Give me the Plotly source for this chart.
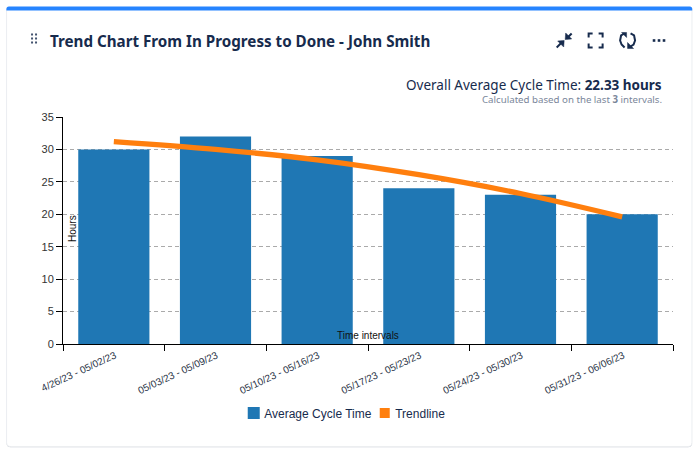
import plotly.graph_objects as go

intervals = ["04/26/23 - 05/02/23", "05/03/23 - 05/09/23", "05/10/23 - 05/16/23",
             "05/17/23 - 05/23/23", "05/24/23 - 05/30/23", "05/31/23 - 06/06/23"]
tick_labels = ["4/26/23 - 05/02/23", "05/03/23 - 05/09/23", "05/10/23 - 05/16/23",
               "05/17/23 - 05/23/23", "05/24/23 - 05/30/23", "05/31/23 - 06/06/23"]
cycle_time = [30, 32, 29, 24, 23, 20]
trendline = [31.2, 30.0, 28.4, 26.1, 23.2, 19.6]

W, H = 699, 452
L, R, T, B = 62.5, 673.5, 117.3, 343.7
INK = "#172b4d"

def px(x):
    return (x - L) / (R - L)

def py(y):
    return (B - y) / (B - T)

def pt(x, y):
    return f"{px(x):.5f},{py(y):.5f}"

def poly(points, close=False):
    d = "M" + " L".join(pt(x, y) for x, y in points)
    return d + (" Z" if close else "")

def path_shape(d, color=INK, width=2, fill=None, layer="above"):
    return dict(type="path", xref="paper", yref="paper", path=d, layer=layer,
                line=dict(color=color, width=width), fillcolor=fill)

def rect(x0, y0, x1, y1, fill, line=None, lw=0, layer="below"):
    return dict(type="rect", xref="paper", yref="paper", x0=px(x0), x1=px(x1), y0=py(y0), y1=py(y1),
                fillcolor=fill, line=dict(color=line or fill, width=lw), layer=layer)

def rounded(x0, y0, x1, y1, r_top, r_bot):
    return ("M" + pt(x0, y0 + r_top) + " Q" + pt(x0, y0) + " " + pt(x0 + r_top, y0) +
            " L" + pt(x1 - r_top, y0) + " Q" + pt(x1, y0) + " " + pt(x1, y0 + r_top) +
            " L" + pt(x1, y1 - r_bot) + " Q" + pt(x1, y1) + " " + pt(x1 - r_bot, y1) +
            " L" + pt(x0 + r_bot, y1) + " Q" + pt(x0, y1) + " " + pt(x0, y1 - r_bot) + " Z")

shapes = [
    path_shape(rounded(6, 8, 692.5, 446.8, 3, 4), color="#c5cad3", width=0, fill="#c5cad3", layer="below"),
    path_shape(rounded(6, 8, 692.5, 446, 3, 4), color="#eceef1", width=1, fill="#ffffff", layer="below"),
    path_shape(rounded(5.8, 7, 692.8, 11, 2.5, 0), color="#2684ff", width=0, fill="#2684ff", layer="below"),
]
# grip dots
for gx in (31.5, 35.5):
    for gy in (35, 39, 43):
        shapes.append(rect(gx - 1, gy - 1, gx + 1, gy + 1, "#42526e", layer="above"))
# compress icon
shapes += [
    path_shape(poly([(557, 48), (563, 42)])),
    path_shape(poly([(558, 41.5), (564.5, 41), (564, 47.5)], True), width=0.5, fill=INK),
    path_shape(poly([(572, 34), (567, 39)])),
    path_shape(poly([(566, 33.5), (565.5, 40), (572, 39.5)], True), width=0.5, fill=INK),
]
# fullscreen icon
for a in ([(589, 38), (589, 34), (593, 34)], [(599, 34), (603, 34), (603, 38)],
          [(603, 44), (603, 48), (599, 48)], [(593, 48), (589, 48), (589, 44)]):
    shapes.append(path_shape(poly(a)))
# refresh icon
shapes += [
    path_shape(poly([(625, 34), (621.5, 36), (620.5, 41), (622, 45), (625, 48)])),
    path_shape(poly([(622, 33), (627, 33), (627, 38)], True), width=0.5, fill=INK),
    path_shape(poly([(631, 34), (634.5, 36), (635.5, 41), (634, 45), (631, 47)])),
    path_shape(poly([(628, 43), (628, 49), (634, 49)], True), width=0.5, fill=INK),
]
# menu dots
for dx in (654.5, 659.5, 664.5):
    shapes.append(rect(dx - 1.3, 39.7, dx + 1.3, 42.3, INK, layer="above"))

def note(text, x, y, size, color=INK, family="Noto Sans", xanchor="left", angle=0):
    return dict(text=text, xref="paper", yref="paper", x=px(x), y=py(y), showarrow=False,
                xanchor=xanchor, yanchor="middle", textangle=angle,
                font=dict(size=size, color=color, family=family))

annotations = [
    note("<b>Trend Chart From In Progress to Done - John Smith</b>", 47, 41.7, 15.2),
    note("Overall Average Cycle Time: <b>22.33 hours</b>", 664, 85.2, 13.5, xanchor="right"),
    note("Calculated based on the last <b>3</b> intervals.", 664, 99.5, 9.7, color="#7a869a", xanchor="right"),
    note("Time intervals", 368, 335.5, 10, color="#111111", family="Liberation Sans", xanchor="center"),
    note("Hours", 72.5, 228, 10, color="#111111", family="Liberation Sans", xanchor="center", angle=-90),
]

fig = go.Figure()
fig.add_bar(x=intervals, y=cycle_time, name="Average Cycle Time", marker=dict(color="#1f77b4", line_width=0), width=0.7)
fig.add_scatter(x=intervals, y=trendline, mode="lines", name="Trendline", showlegend=False,
                legendgroup="t", line=dict(color="#ff7f0e", width=5.3, shape="spline"), cliponaxis=False)
fig.add_scatter(x=[intervals[0]], y=[None], mode="markers", name="Trendline", legendgroup="t",
                marker=dict(color="#ff7f0e", symbol="square", size=10))

fig.update_layout(
    width=W, height=H, autosize=False,
    margin=dict(l=L, r=W - R, t=T, b=H - B, pad=0),
    paper_bgcolor="#ffffff", plot_bgcolor="rgba(0,0,0,0)",
    font=dict(family="Liberation Sans", size=12, color=INK),
    shapes=shapes, annotations=annotations, bargap=0.3,
    legend=dict(orientation="h", x=px(224), xanchor="left", y=py(398), yanchor="top",
                font=dict(size=12, color=INK, family="Liberation Sans"), itemwidth=30,
                entrywidth=86, entrywidthmode="pixels", bgcolor="rgba(0,0,0,0)"),
    hovermode=False,
)
fig.update_xaxes(type="category", tickson="boundaries", tickmode="array", tickvals=intervals, ticktext=tick_labels,
                 tickangle=-25, ticks="outside", ticklen=6, tickwidth=1, tickcolor="#000000",
                 showline=True, linecolor="#000000", linewidth=1, showgrid=False, zeroline=False,
                 ticklabelshift=1, ticklabelstandoff=1,
                 tickfont=dict(size=10, color="#2a3346", family="Liberation Sans"), automargin=False)
fig.update_yaxes(range=[0, 35], dtick=5, ticks="outside", ticklen=6, tickwidth=1, tickcolor="#000000",
                 showline=True, linecolor="#000000", linewidth=1, showgrid=True, gridcolor="#aaaaaa",
                 griddash="4px,3px", gridwidth=1, zeroline=False,
                 tickfont=dict(size=11, color="#333333", family="Liberation Sans"), automargin=False)

fig.write_html("out.html", config=dict(displayModeBar=False),
               post_script=(
                   "document.body.style.margin='0';document.documentElement.style.overflow='hidden';"
                   "document.querySelectorAll('.legendsymbols').forEach(function(g){g.setAttribute('transform','translate(9.5,0)');});"
                   "document.querySelectorAll('.legendbar path, path.legendbar').forEach(function(p){p.setAttribute('transform','scale(0.83)');});"
               ))
